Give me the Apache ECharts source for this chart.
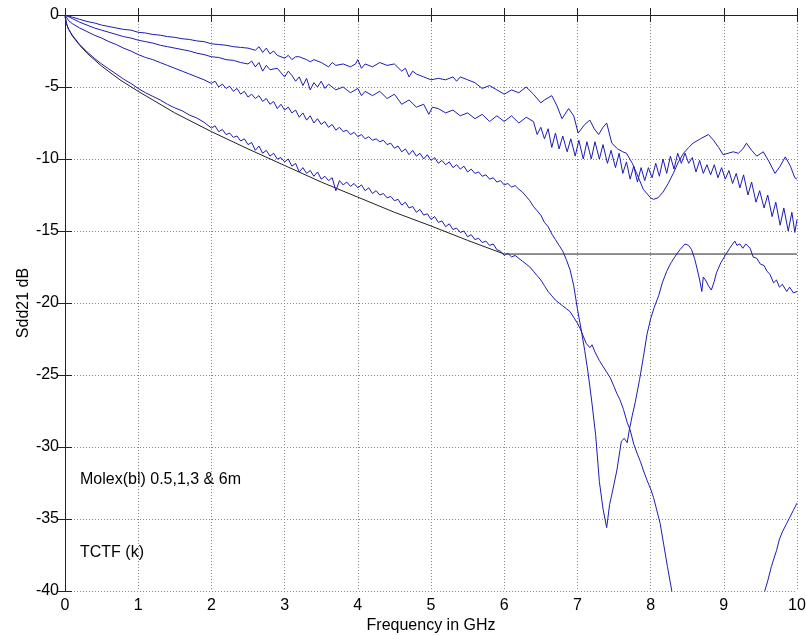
<!DOCTYPE html>
<html>
<head>
<meta charset="utf-8">
<script src="https://cdn.jsdelivr.net/npm/echarts@6/dist/echarts.min.js"></script>
<style>
html,body{margin:0;padding:0;background:#fff;}
#chart{width:806px;height:635px;}
</style>
</head>
<body>
<div id="chart"></div>
<script>
// Sdd21 (dB) vs frequency (GHz)
var xTicks = [0,1,2,3,4,5,6,7,8,9,10];
var yTicks = [-40,-35,-30,-25,-20,-15,-10,-5,0];

var molex05 = [[0,0],[0.1,-0.15],[0.2,-0.3],[0.3,-0.45],[0.4,-0.55],[0.5,-0.7],[0.6,-0.8],[0.7,-0.9],[0.8,-1.0],[0.9,-1.05],
[1.0,-1.2],[1.1,-1.25],[1.2,-1.35],[1.3,-1.4],[1.4,-1.5],[1.5,-1.55],[1.6,-1.65],[1.7,-1.7],[1.8,-1.8],[1.9,-1.85],
[2.0,-2.0],[2.1,-2.05],[2.2,-2.1],[2.3,-2.2],[2.4,-2.25],[2.5,-2.3],[2.6,-2.45],[2.65,-2.2],[2.7,-2.6],[2.75,-2.3],
[2.8,-2.7],[2.85,-2.5],[2.9,-2.8],[3.0,-3.0],[3.05,-2.8],[3.1,-3.1],[3.15,-2.9],[3.2,-2.9],[3.3,-3.1],[3.35,-3.25],
[3.4,-3.1],[3.5,-3.3],[3.6,-3.6],[3.65,-3.3],[3.7,-3.5],[3.8,-3.4],[3.9,-3.6],[3.97,-3.4],[4.0,-3.1],[4.05,-3.7],
[4.1,-3.4],[4.2,-3.6],[4.3,-3.3],[4.4,-3.5],[4.5,-3.4],[4.6,-3.9],[4.65,-3.7],[4.7,-4.3],[4.75,-3.9],[4.8,-4.1],
[4.9,-4.3],[5.0,-4.5],[5.1,-4.4],[5.2,-4.5],[5.3,-4.3],[5.35,-4.6],[5.4,-4.3],[5.5,-4.5],[5.6,-4.7],[5.7,-5.1],
[5.8,-4.9],[5.9,-5.2],[6.0,-5.5],[6.1,-5.2],[6.2,-5.4],[6.3,-5.0],[6.4,-5.5],[6.5,-6.1],[6.55,-5.9],[6.65,-5.6],
[6.72,-6.3],[6.79,-7.2],[6.88,-6.5],[6.95,-7.0],[7.01,-8.2],[7.1,-7.6],[7.17,-7.3],[7.23,-7.9],[7.29,-8.3],[7.35,-7.8],
[7.4,-7.5],[7.47,-8.9],[7.55,-9.3],[7.62,-9.5],[7.67,-9.6],[7.75,-10.3],[7.81,-11.0],[7.9,-12.1],[8.0,-12.7],[8.04,-12.8],
[8.1,-12.7],[8.17,-12.3],[8.24,-11.7],[8.31,-11.0],[8.38,-10.2],[8.45,-9.6],[8.52,-9.2],[8.58,-8.9],[8.68,-8.6],[8.79,-8.3],
[8.86,-8.7],[8.93,-9.2],[8.99,-9.7],[9.06,-9.6],[9.13,-9.5],[9.2,-9.6],[9.26,-9.3],[9.31,-8.9],[9.38,-9.4],[9.45,-9.8],
[9.54,-9.5],[9.62,-10.2],[9.70,-11.0],[9.77,-10.5],[9.84,-9.85],[9.91,-10.5],[9.97,-11.3],[10.0,-11.4]];

var molex1 = [[0,0],[0.1,-0.25],[0.2,-0.5],[0.3,-0.7],[0.4,-0.9],[0.5,-1.05],[0.6,-1.2],[0.7,-1.35],[0.8,-1.5],[0.9,-1.6],
[1.0,-1.75],[1.1,-1.85],[1.2,-1.95],[1.3,-2.1],[1.4,-2.2],[1.5,-2.3],[1.6,-2.4],[1.7,-2.5],[1.8,-2.65],[1.9,-2.75],
[2.0,-2.9],[2.1,-2.95],[2.2,-3.1],[2.3,-3.15],[2.4,-3.3],[2.5,-3.4],[2.55,-3.2],[2.6,-3.6],[2.65,-3.3],[2.7,-3.9],
[2.75,-3.5],[2.8,-3.8],[2.9,-3.7],[3.0,-4.3],[3.05,-3.9],[3.1,-4.2],[3.15,-4.6],[3.2,-4.3],[3.25,-4.9],[3.3,-4.4],
[3.35,-5.2],[3.4,-4.7],[3.45,-5.0],[3.5,-4.6],[3.55,-5.1],[3.6,-4.8],[3.7,-5.2],[3.8,-5.0],[3.9,-5.4],[4.0,-5.1],
[4.05,-5.6],[4.1,-5.3],[4.2,-5.6],[4.3,-5.3],[4.4,-5.8],[4.5,-5.5],[4.6,-6.2],[4.7,-5.9],[4.8,-6.4],[4.9,-6.2],
[4.97,-6.9],[5.02,-6.4],[5.1,-6.5],[5.2,-6.8],[5.3,-6.6],[5.4,-7.0],[5.5,-6.8],[5.6,-7.2],[5.7,-6.9],[5.8,-7.4],
[5.9,-7.0],[6.0,-7.4],[6.1,-7.0],[6.2,-7.5],[6.3,-7.1],[6.4,-7.4],[6.45,-8.3],[6.5,-7.8],[6.55,-8.6],[6.6,-7.9],
[6.65,-9.2],[6.7,-8.2],[6.75,-9.3],[6.8,-8.4],[6.86,-9.5],[6.91,-8.6],[6.97,-9.8],[7.02,-8.7],[7.08,-10.0],[7.13,-8.8],
[7.19,-10.0],[7.24,-8.8],[7.3,-10.0],[7.35,-9.0],[7.41,-10.3],[7.46,-9.4],[7.52,-10.6],[7.57,-9.6],[7.62,-11.0],[7.67,-10.2],
[7.72,-11.4],[7.77,-10.5],[7.82,-11.6],[7.87,-10.6],[7.92,-11.5],[7.97,-10.6],[8.02,-11.3],[8.07,-10.3],[8.12,-11.2],[8.17,-10.0],
[8.22,-11.0],[8.27,-9.8],[8.32,-10.7],[8.37,-9.6],[8.42,-10.3],[8.47,-9.6],[8.52,-10.3],[8.57,-9.9],[8.62,-10.9],[8.67,-10.1],
[8.72,-11.0],[8.77,-10.4],[8.82,-11.1],[8.87,-10.4],[8.92,-11.3],[8.97,-10.6],[9.02,-11.4],[9.07,-10.8],[9.12,-11.7],[9.17,-11.0],
[9.22,-12.0],[9.27,-11.1],[9.33,-12.5],[9.38,-11.6],[9.44,-13.0],[9.49,-12.2],[9.55,-13.4],[9.6,-12.5],[9.66,-14.0],[9.71,-13.0],
[9.77,-14.6],[9.82,-13.4],[9.88,-15.0],[9.93,-13.7],[9.97,-15.1],[10.0,-14.2]];

var molex3 = [[0,0],[0.05,-0.4],[0.1,-0.6],[0.2,-0.9],[0.3,-1.15],[0.4,-1.4],[0.5,-1.6],[0.6,-1.85],[0.7,-2.05],[0.8,-2.3],
[0.9,-2.5],[1.0,-2.75],[1.1,-2.95],[1.2,-3.1],[1.3,-3.3],[1.4,-3.5],[1.5,-3.7],[1.6,-3.9],[1.7,-4.1],[1.8,-4.3],
[1.9,-4.5],[2.0,-4.75],[2.05,-4.6],[2.1,-5.0],[2.15,-4.8],[2.2,-5.1],[2.25,-4.95],[2.3,-5.3],[2.35,-5.1],[2.4,-5.5],
[2.45,-5.3],[2.5,-5.7],[2.55,-5.5],[2.6,-5.8],[2.65,-5.6],[2.7,-6.0],[2.75,-5.8],[2.8,-6.2],[2.85,-6.0],[2.9,-6.5],
[2.95,-6.2],[3.0,-6.6],[3.05,-6.4],[3.1,-6.8],[3.15,-6.6],[3.2,-7.1],[3.25,-6.8],[3.3,-7.3],[3.35,-7.0],[3.4,-7.5],
[3.45,-7.2],[3.5,-7.6],[3.55,-7.4],[3.6,-7.8],[3.65,-7.6],[3.7,-8.0],[3.75,-7.8],[3.8,-8.1],[3.85,-8.0],[3.9,-8.3],
[3.95,-8.15],[4.0,-8.45],[4.05,-8.3],[4.1,-8.6],[4.15,-8.45],[4.2,-8.7],[4.25,-8.6],[4.3,-8.8],[4.35,-8.7],[4.4,-9.0],
[4.45,-8.9],[4.5,-9.25],[4.55,-9.1],[4.6,-9.5],[4.65,-9.3],[4.7,-9.7],[4.75,-9.4],[4.8,-9.8],[4.85,-9.6],[4.9,-10.0],
[4.95,-9.7],[5.0,-10.1],[5.05,-9.9],[5.1,-10.3],[5.15,-10.1],[5.2,-10.4],[5.25,-10.2],[5.3,-10.6],[5.35,-10.4],[5.4,-10.7],
[5.45,-10.5],[5.5,-10.9],[5.55,-10.7],[5.6,-11.0],[5.65,-10.9],[5.7,-11.2],[5.75,-11.1],[5.8,-11.4],[5.85,-11.3],[5.9,-11.6],
[5.95,-11.5],[6.0,-11.8],[6.05,-11.7],[6.1,-11.95],[6.15,-11.85],[6.2,-12.1],[6.25,-12.3],[6.3,-12.6],[6.35,-12.9],[6.4,-13.3],
[6.45,-13.6],[6.5,-13.9],[6.55,-14.4],[6.6,-14.7],[6.65,-15.2],[6.7,-15.6],[6.75,-16.0],[6.8,-16.4],[6.85,-17.0],[6.9,-17.7],
[6.95,-18.8],[7.0,-20.4],[7.05,-21.8],[7.1,-23.3],[7.15,-25.0],[7.2,-27.0],[7.25,-29.2],[7.3,-32.4],[7.35,-34.3],[7.4,-35.6],
[7.44,-34.0],[7.47,-33.3],[7.54,-31.6],[7.6,-29.6],[7.64,-29.4],[7.68,-29.7],[7.71,-28.8],[7.75,-27.8],[7.79,-26.9],[7.85,-25.3],
[7.9,-23.8],[7.95,-22.2],[8.0,-21.1],[8.05,-20.3],[8.11,-19.5],[8.16,-18.6],[8.22,-17.8],[8.28,-17.2],[8.33,-16.8],[8.4,-16.3],
[8.47,-15.9],[8.52,-16.0],[8.56,-16.3],[8.6,-16.9],[8.63,-17.5],[8.67,-18.4],[8.7,-19.2],[8.72,-18.2],[8.75,-18.4],[8.79,-18.8],
[8.83,-19.1],[8.87,-18.5],[8.9,-17.9],[8.96,-17.2],[9.02,-16.7],[9.08,-16.2],[9.15,-15.7],[9.18,-16.0],[9.22,-15.9],[9.26,-16.2],
[9.3,-15.9],[9.36,-16.2],[9.4,-16.8],[9.45,-16.9],[9.5,-17.3],[9.55,-17.4],[9.59,-17.8],[9.63,-18.0],[9.68,-18.6],[9.72,-18.4],
[9.76,-18.9],[9.8,-18.7],[9.86,-19.2],[9.9,-18.9],[9.95,-19.3],[10.0,-19.2]];

var molex6 = [[0,-0.1],[0.02,-0.6],[0.05,-1.0],[0.1,-1.4],[0.2,-2.05],[0.3,-2.55],[0.4,-3.0],[0.5,-3.4],[0.6,-3.75],[0.7,-4.1],
[0.8,-4.45],[0.9,-4.75],[1.0,-5.1],[1.1,-5.4],[1.2,-5.65],[1.3,-5.9],[1.4,-6.2],[1.5,-6.45],[1.6,-6.65],[1.7,-6.95],
[1.8,-7.15],[1.9,-7.45],[2.0,-7.85],[2.05,-7.7],[2.1,-8.1],[2.15,-7.95],[2.2,-8.3],[2.25,-8.2],[2.3,-8.5],[2.35,-8.4],
[2.4,-8.75],[2.45,-8.6],[2.5,-9.0],[2.55,-8.85],[2.6,-9.4],[2.65,-9.1],[2.7,-9.6],[2.75,-9.4],[2.8,-9.8],[2.85,-9.6],
[2.9,-10.0],[2.95,-9.9],[3.0,-10.2],[3.05,-10.0],[3.1,-10.5],[3.15,-10.3],[3.2,-10.9],[3.25,-10.6],[3.3,-11.0],[3.35,-10.8],
[3.4,-11.2],[3.45,-10.9],[3.5,-11.4],[3.55,-11.2],[3.6,-11.5],[3.65,-11.3],[3.7,-12.2],[3.75,-11.5],[3.8,-11.8],[3.85,-11.6],
[3.9,-11.9],[3.95,-11.7],[4.0,-12.0],[4.05,-11.8],[4.1,-12.2],[4.15,-12.0],[4.2,-12.4],[4.25,-12.2],[4.3,-12.5],[4.35,-12.4],
[4.4,-12.7],[4.45,-12.6],[4.5,-12.9],[4.55,-12.8],[4.6,-13.2],[4.65,-13.0],[4.7,-13.4],[4.75,-13.3],[4.8,-13.7],[4.85,-13.5],
[4.9,-13.9],[4.95,-13.8],[5.0,-14.2],[5.05,-14.0],[5.1,-14.4],[5.15,-14.3],[5.2,-14.7],[5.25,-14.5],[5.3,-14.9],[5.35,-14.8],
[5.4,-15.1],[5.45,-15.0],[5.5,-15.4],[5.55,-15.25],[5.6,-15.6],[5.65,-15.5],[5.7,-15.8],[5.75,-15.7],[5.8,-16.0],[5.85,-15.9],
[5.9,-16.3],[5.95,-16.4],[6.0,-16.7],[6.05,-16.55],[6.1,-16.8],[6.15,-16.7],[6.2,-16.9],[6.25,-17.1],[6.3,-17.3],[6.35,-17.5],
[6.4,-17.8],[6.45,-18.1],[6.5,-18.4],[6.55,-18.8],[6.6,-19.2],[6.65,-19.5],[6.7,-19.8],[6.75,-20.0],[6.8,-20.2],[6.85,-20.4],
[6.9,-20.6],[6.95,-21.0],[7.0,-21.4],[7.04,-21.8],[7.08,-22.3],[7.12,-22.8],[7.17,-23.1],[7.2,-22.9],[7.24,-23.4],[7.3,-24.0],
[7.35,-24.4],[7.4,-24.8],[7.45,-25.2],[7.5,-25.8],[7.54,-26.3],[7.58,-26.7],[7.63,-27.4],[7.68,-28.3],[7.72,-28.8],[7.77,-29.8],
[7.82,-30.5],[7.86,-31.0],[7.9,-31.6],[7.95,-32.3],[8.0,-32.9],[8.04,-33.5],[8.08,-34.3],[8.13,-35.3],[8.18,-36.8],[8.23,-38.3],
[8.29,-40.0],[8.32,-41.0],[8.9,'-'],[9.53,-41.0],[9.56,-40.0],[9.6,-39.3],[9.65,-38.3],[9.7,-37.5],[9.72,-37.2],[9.76,-36.4],
[9.8,-35.9],[9.86,-35.3],[9.9,-34.9],[9.95,-34.4],[10.0,-33.9]];

var tctf = [[0,0],[0.02,-0.6],[0.05,-1.0],[0.1,-1.45],[0.2,-2.1],[0.3,-2.65],[0.5,-3.55],[0.75,-4.5],[1,-5.3],[1.5,-6.8],
[2,-8.1],[2.5,-9.3],[3,-10.45],[3.5,-11.6],[4,-12.65],[4.5,-13.7],[5,-14.65],[5.5,-15.65],[6,-16.6],[10,-16.6]];

var texts = ['Molex(bl) 0.5,1,3 & 6m', 'TCTF (k)'];
var xName = 'Frequency in GHz';
var yName = 'Sdd21 dB';

var FONT = 'Liberation Sans, Arial, Helvetica, sans-serif';
var FS = 16;
var BLUE = '#1c1cb4';

function blueSeries(name, data){
  return {name:name, type:'line', data:data, showSymbol:false, symbol:'none', clip:true,
    lineStyle:{color:BLUE, width:1}, connectNulls:false, animation:false, z:3};
}

var chart = echarts.init(document.getElementById('chart'), null, {renderer:'canvas'});
var axisLine = {show:true, lineStyle:{color:'#222', width:1}};
chart.setOption({
  backgroundColor:'#fff',
  animation:false,
  grid:{left:65, right:9, top:15, bottom:44, containLabel:false, outerBoundsMode:'none'},
  xAxis:[{
    type:'value', min:xTicks[0], max:xTicks[xTicks.length-1], interval:1,
    axisLine:axisLine, axisTick:{show:true, inside:true, length:7, lineStyle:{color:'#222'}},
    axisLabel:{color:'#000', fontSize:FS, fontFamily:FONT, margin:7},
    splitLine:{show:true, lineStyle:{color:'#888', type:[1,2], width:1}},
    name:xName, nameLocation:'middle', nameGap:27, nameMoveOverlap:false,
    nameTextStyle:{color:'#000', fontSize:FS, fontFamily:FONT}
  },{
    type:'value', position:'top', min:0, max:10, interval:1,
    axisLine:axisLine, axisTick:{show:true, inside:true, length:7, lineStyle:{color:'#222'}},
    axisLabel:{show:false}, splitLine:{show:false}
  }],
  yAxis:[{
    type:'value', min:yTicks[0], max:yTicks[yTicks.length-1], interval:5,
    axisLine:axisLine, axisTick:{show:true, inside:true, length:7, lineStyle:{color:'#222'}},
    axisLabel:{color:'#000', fontSize:FS, fontFamily:FONT, margin:6},
    splitLine:{show:true, lineStyle:{color:'#888', type:[1,2], width:1}},
    name:yName, nameLocation:'middle', nameGap:33, nameMoveOverlap:false,
    nameTextStyle:{color:'#000', fontSize:FS, fontFamily:FONT}
  },{
    type:'value', position:'right', min:-40, max:0, interval:5,
    axisLine:axisLine, axisTick:{show:true, inside:true, length:7, lineStyle:{color:'#222'}},
    axisLabel:{show:false}, splitLine:{show:false}
  }],
  graphic:[
    {type:'text', left:80, top:472, style:{text:texts[0], font:FS+'px '+FONT, fill:'#000'}},
    {type:'text', left:80, top:545, style:{text:texts[1], font:FS+'px '+FONT, fill:'#000'}}
  ],
  series:[
    {name:'TCTF', type:'line', data:tctf, showSymbol:false, symbol:'none', clip:true,
      lineStyle:{color:'#222', width:1}, animation:false, z:2},
    blueSeries('0.5m', molex05),
    blueSeries('1m', molex1),
    blueSeries('3m', molex3),
    blueSeries('6m', molex6)
  ]
});
</script>
</body>
</html>
